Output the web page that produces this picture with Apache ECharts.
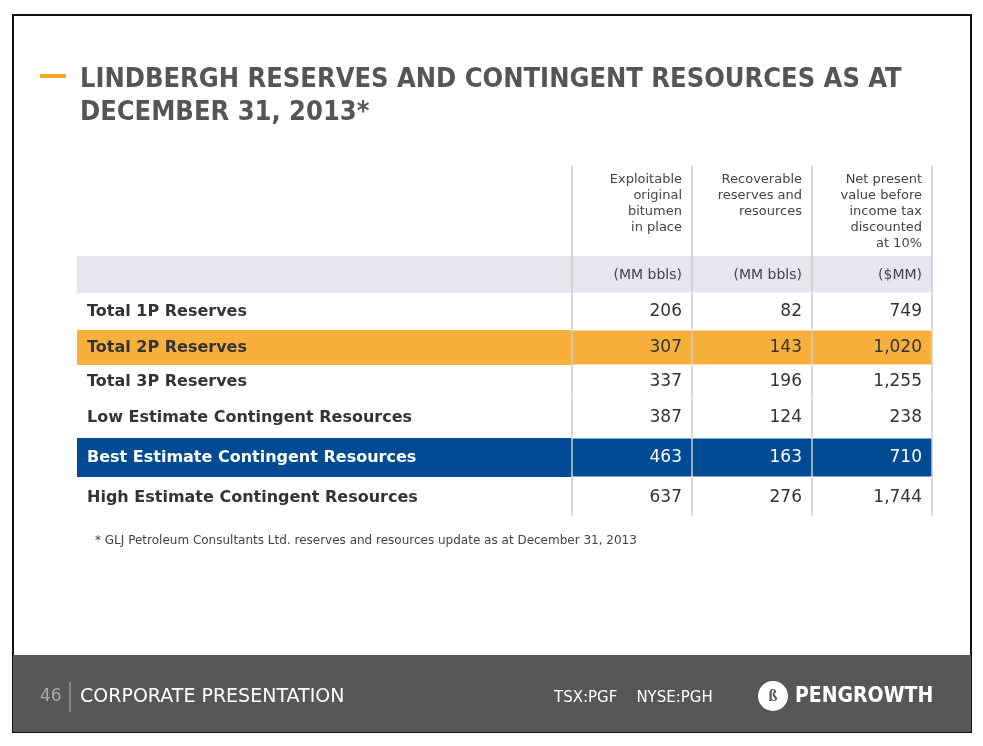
<!DOCTYPE html>
<html><head><meta charset="utf-8">
<script src="https://cdn.jsdelivr.net/npm/echarts@6/dist/echarts.min.js"></script>
<style>html,body{margin:0;padding:0;background:#fff}#main{width:983px;height:746px}</style>
</head><body><div id="main"></div>
<script>
var rowLabels = ['Total 1P Reserves','Total 2P Reserves','Total 3P Reserves','Low Estimate Contingent Resources','Best Estimate Contingent Resources','High Estimate Contingent Resources'];
var colHeaders = [['Exploitable','original','bitumen','in place'],['Recoverable','reserves and','resources'],['Net present','value before','income tax','discounted','at 10%']];
var colUnits = ['(MM bbls)','(MM bbls)','($MM)'];
var bitumen = [206,307,337,387,463,637];
var recoverable = [82,143,196,124,163,276];
var npv = [749,1020,1255,238,710,1744];

var rowY = [312,348,382,418,458,498];
var rowBand = {1:{fill:'#f7b03c',y:330,h:35,text:'#333'},4:{fill:'#004b93',y:438,h:39,text:'#fff'}};
var colDiv = [572,692,812,932];
var font = 'Verdana, "DejaVu Sans", sans-serif';
function fmt(v){return v.toLocaleString('en-US');}

var g = [];
g.push({type:'rect',shape:{x:13,y:15,width:958,height:717},style:{fill:'#fff',stroke:'#111',lineWidth:2}});
g.push({type:'rect',shape:{x:40,y:74,width:26,height:4},style:{fill:'#f7a823'}});
g.push({type:'text',x:80,y:63,style:{text:'LINDBERGH RESERVES AND CONTINGENT RESOURCES AS AT\nDECEMBER 31, 2013*',fill:'#555',font:'bold 27px "DejaVu Sans Condensed", "Liberation Sans", sans-serif',lineHeight:33}});
g.push({type:'rect',shape:{x:77,y:256,width:855,height:37},style:{fill:'#e6e6ee'}});
Object.keys(rowBand).forEach(function(k){var b=rowBand[k];g.push({type:'rect',shape:{x:77,y:b.y,width:855,height:b.h},style:{fill:b.fill}});});
colDiv.forEach(function(x){g.push({type:'line',shape:{x1:x,y1:166,x2:x,y2:516},style:{stroke:'#ccc',lineWidth:1.5}});});
[293,330,365,398,438,477].forEach(function(y){g.push({type:'line',shape:{x1:572,y1:y,x2:932,y2:y},style:{stroke:'#fff',lineWidth:1}});});
colHeaders.forEach(function(lines,i){
  g.push({type:'text',x:colDiv[i+1]-10,y:172,style:{text:lines.join('\n'),fill:'#444',font:'13px '+font,align:'right',lineHeight:16}});
  g.push({type:'text',x:colDiv[i+1]-10,y:275,style:{text:colUnits[i],fill:'#444',font:'14px '+font,align:'right',verticalAlign:'middle'}});
});
var cols=[bitumen,recoverable,npv];
rowLabels.forEach(function(lab,r){
  var tc = rowBand[r]?rowBand[r].text:'#333';
  g.push({type:'text',x:87,y:rowY[r],style:{text:lab,fill:tc,font:'bold 16px '+font,verticalAlign:'middle'}});
  cols.forEach(function(c,i){
    g.push({type:'text',x:colDiv[i+1]-10,y:rowY[r],style:{text:fmt(c[r]),fill:tc,font:'17px '+font,align:'right',verticalAlign:'middle'}});
  });
});
g.push({type:'text',x:95,y:541,style:{text:'* GLJ Petroleum Consultants Ltd. reserves and resources update as at December 31, 2013',fill:'#444',font:'12px '+font,verticalAlign:'middle'}});
// footer
g.push({type:'rect',shape:{x:13,y:655,width:958,height:77},style:{fill:'#575757'}});
g.push({type:'text',x:40,y:697,style:{text:'46',fill:'#aaa',font:'17px '+font,verticalAlign:'middle'}});
g.push({type:'line',shape:{x1:70,y1:682,x2:70,y2:712},style:{stroke:'#bbb',lineWidth:1}});
g.push({type:'text',x:80,y:697,style:{text:'CORPORATE PRESENTATION',fill:'#fff',font:'19px '+font,verticalAlign:'middle'}});
g.push({type:'text',x:554,y:698,style:{text:'TSX:PGF    NYSE:PGH',fill:'#fff',font:'15px '+font,verticalAlign:'middle'}});
g.push({type:'circle',shape:{cx:773,cy:696,r:15},style:{fill:'#fff'}});
g.push({type:'text',x:773,y:697,style:{text:'ß',fill:'#575757',font:'bold 16px serif',align:'center',verticalAlign:'middle'}});
g.push({type:'text',x:795,y:697,style:{text:'PENGROWTH',fill:'#fff',font:'bold 21px "DejaVu Sans Condensed", sans-serif',verticalAlign:'middle'}});

var chart = echarts.init(document.getElementById('main'));
chart.setOption({animation:false,graphic:{elements:g}});
</script></body></html>
